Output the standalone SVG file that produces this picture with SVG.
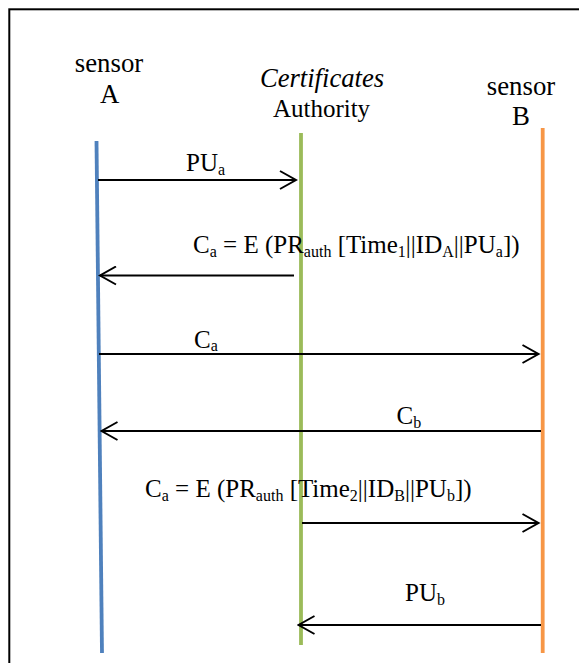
<svg xmlns="http://www.w3.org/2000/svg" width="579" height="663" viewBox="0 0 579 663" font-family="Liberation Serif, Times New Roman, serif">
  <style>
    .lbl { font-size: 25px; fill: #000; }
    .big { font-size: 26.8px; }
    .it { font-style: italic; font-size: 26.6px; }
    .sub { font-size: 16px; }
    .msg { stroke: #000; stroke-width: 2; fill: none; marker-end: url(#open); }
    .life { stroke-width: 3.8; fill: none; }
  </style>
  <defs>
    <marker id="open" viewBox="0 0 20 20" refX="18" refY="10" markerWidth="20" markerHeight="20" markerUnits="userSpaceOnUse" orient="auto">
      <path d="M2,1 L18,10 L2,19" fill="none" stroke="#000" stroke-width="2"/>
    </marker>
  </defs>

  <rect width="579" height="663" fill="#fff"/>
  <rect x="9.3" y="9.3" width="620" height="700" fill="none" stroke="#000" stroke-width="2"/>

  <!-- participants -->
  <g id="sensorA">
    <text class="lbl big" x="109" y="71.5" text-anchor="middle">sensor</text>
    <text class="lbl big" x="109.7" y="102.5" text-anchor="middle">A</text>
    <line class="life" x1="96.5" y1="141" x2="102" y2="653" stroke="#4F81BD"/>
  </g>
  <g id="authority">
    <text class="lbl it" x="322" y="87" text-anchor="middle">Certificates</text>
    <text class="lbl" x="321.5" y="117" text-anchor="middle">Authority</text>
    <line class="life" x1="301" y1="133" x2="301" y2="645" stroke="#9BBB59"/>
  </g>
  <g id="sensorB">
    <text class="lbl big" x="521" y="94.5" text-anchor="middle">sensor</text>
    <text class="lbl big" x="521" y="125" text-anchor="middle">B</text>
    <line class="life" x1="542.7" y1="128" x2="542.7" y2="653" stroke="#F79646"/>
  </g>

  <!-- messages -->
  <g id="connectors">
    <line class="msg" x1="98" y1="180" x2="296" y2="180"/>
    <line class="msg" x1="294" y1="275.5" x2="100" y2="275.5"/>
    <line class="msg" x1="99" y1="354" x2="538.5" y2="354"/>
    <line class="msg" x1="541" y1="431" x2="101.5" y2="431"/>
    <line class="msg" x1="302" y1="523" x2="538.5" y2="523"/>
    <line class="msg" x1="541" y1="625" x2="298.5" y2="625"/>
  </g>

  <g id="labels">
    <text class="lbl" x="186" y="171">PU<tspan class="sub" dy="3.5">a</tspan></text>
    <text class="lbl" x="193" y="253">C<tspan class="sub" dy="3.5">a</tspan><tspan dy="-3.5"> = E (PR</tspan><tspan class="sub" dy="3.5">auth</tspan><tspan dy="-3.5"> [Time</tspan><tspan class="sub" dy="3.5">1</tspan><tspan dy="-3.5">||ID</tspan><tspan class="sub" dy="3.5">A</tspan><tspan dy="-3.5">||PU</tspan><tspan class="sub" dy="3.5">a</tspan><tspan dy="-3.5">])</tspan></text>
    <text class="lbl" x="194" y="347.5">C<tspan class="sub" dy="3.5">a</tspan></text>
    <text class="lbl" x="396.5" y="424">C<tspan class="sub" dy="3.5">b</tspan></text>
    <text class="lbl" x="145" y="497">C<tspan class="sub" dy="3.5">a</tspan><tspan dy="-3.5"> = E (PR</tspan><tspan class="sub" dy="3.5">auth</tspan><tspan dy="-3.5"> [Time</tspan><tspan class="sub" dy="3.5">2</tspan><tspan dy="-3.5">||ID</tspan><tspan class="sub" dy="3.5">B</tspan><tspan dy="-3.5">||PU</tspan><tspan class="sub" dy="3.5">b</tspan><tspan dy="-3.5">])</tspan></text>
    <text class="lbl" x="405" y="601">PU<tspan class="sub" dy="3.5">b</tspan></text>
  </g>
</svg>
